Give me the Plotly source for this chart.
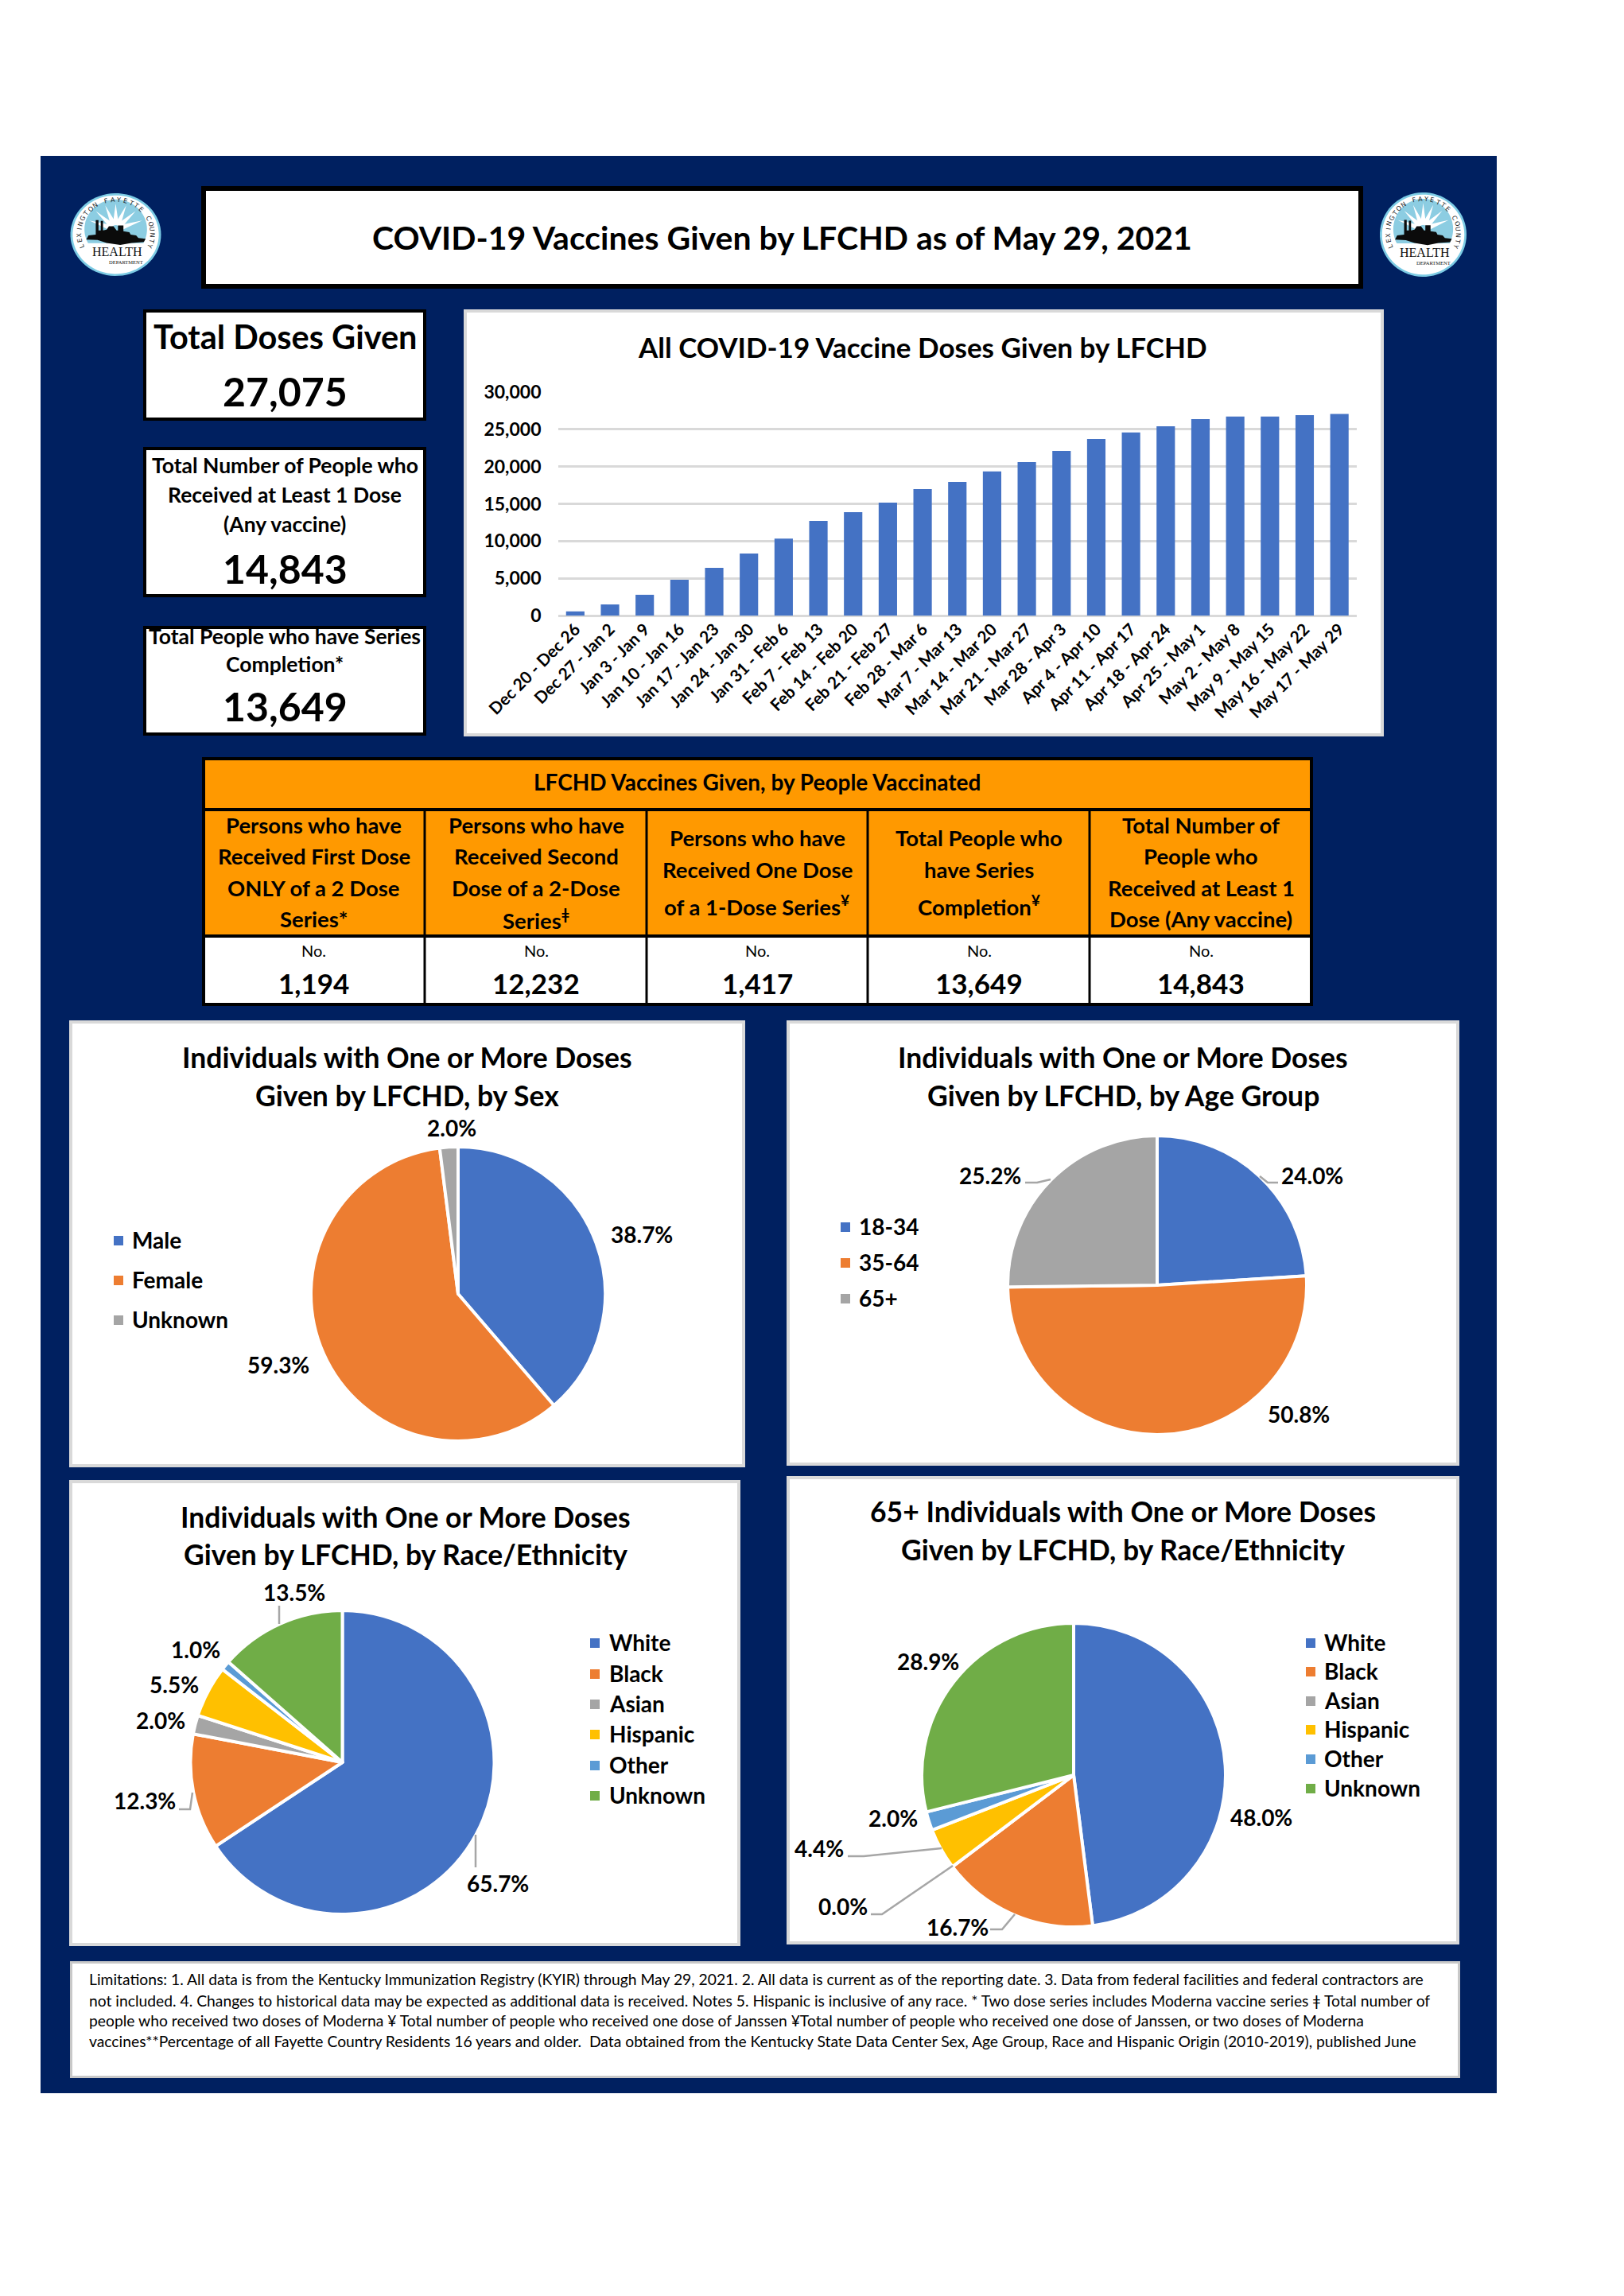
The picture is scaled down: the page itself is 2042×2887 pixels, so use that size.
import numpy as np
import plotly.graph_objects as go

W, H = 2042, 2887
NAVY = "#002060"
ORANGE_HDR = "#FF9900"
BLUE, ORANGE, GRAY, YELLOW, LBLUE, GREEN = "#4472C4", "#ED7D31", "#A5A5A5", "#FFC000", "#5B9BD5", "#70AD47"
FONT = "Lato"

# ---------- data ----------
report_title = "COVID-19 Vaccines Given by LFCHD as of May 29, 2021"
total_doses = "27,075"
at_least_one = "14,843"
series_complete = "13,649"

week_labels = ["Dec 20 - Dec 26", "Dec 27 - Jan 2", "Jan 3 - Jan 9", "Jan 10 - Jan 16", "Jan 17 - Jan 23",
               "Jan 24 - Jan 30", "Jan 31 - Feb 6", "Feb 7 - Feb 13", "Feb 14 - Feb 20", "Feb 21 - Feb 27",
               "Feb 28 - Mar 6", "Mar 7 - Mar 13", "Mar 14 - Mar 20", "Mar 21 - Mar 27", "Mar 28 - Apr 3",
               "Apr 4 - Apr 10", "Apr 11 - Apr 17", "Apr 18 - Apr 24", "Apr 25 - May 1", "May 2 - May 8",
               "May 9 - May 15", "May 16 - May 22", "May 17 - May 29"]
cumulative_doses = [550, 1490, 2790, 4810, 6410, 8320, 10340, 12710, 13890, 15150, 16980, 17940, 19350,
                    20610, 22100, 23700, 24580, 25420, 26370, 26720, 26720, 26910, 27075]
y_ticks = [0, 5000, 10000, 15000, 20000, 25000, 30000]

table_title = "LFCHD Vaccines Given, by People Vaccinated"
table_headers = [
    ["Persons who have", "Received First Dose", "ONLY of a 2 Dose", "Series*"],
    ["Persons who have", "Received Second", "Dose of a 2-Dose", "Series<sup>ǂ</sup>"],
    ["Persons who have", "Received One Dose", "of a 1-Dose Series<sup>¥</sup>"],
    ["Total People who", "have Series", "Completion<sup>¥</sup>"],
    ["Total Number of", "People who", "Received at Least 1", "Dose (Any vaccine)"],
]
table_values = ["1,194", "12,232", "1,417", "13,649", "14,843"]

sex_labels = ["Male", "Female", "Unknown"]
sex_values = [38.7, 59.3, 2.0]
age_labels = ["18-34", "35-64", "65+"]
age_values = [24.0, 50.8, 25.2]
race_labels = ["White", "Black", "Asian", "Hispanic", "Other", "Unknown"]
race_values = [65.7, 12.3, 2.0, 5.5, 1.0, 13.5]
senior_race_values = [48.0, 16.7, 0.0, 4.4, 2.0, 28.9]

footnotes = [
    "Limitations: 1. All data is from the Kentucky Immunization Registry (KYIR) through May 29, 2021. 2. All data is current as of the reporting date. 3. Data from federal facilities and federal contractors are",
    "not included. 4. Changes to historical data may be expected as additional data is received. Notes 5. Hispanic is inclusive of any race. * Two dose series includes Moderna vaccine series ǂ Total number of",
    "people who received two doses of Moderna ¥ Total number of people who received one dose of Janssen ¥Total number of people who received one dose of Janssen, or two doses of Moderna",
    "vaccines**Percentage of all Fayette Country Residents 16 years and older.  Data obtained from the Kentucky State Data Center Sex, Age Group, Race and Hispanic Origin (2010-2019), published June",
]

# ---------- helpers ----------
X = lambda px: px / W
Y = lambda py: 1 - py / H
shapes, annots = [], []


def rect(x0, y0, x1, y1, fill, line=None, lw=0):
    i = lw / 2
    shapes.append(dict(type="rect", xref="paper", yref="paper", layer="below",
                       x0=X(x0 + i), x1=X(x1 - i), y0=Y(y1 - i), y1=Y(y0 + i), fillcolor=fill,
                       line=dict(color=line or fill, width=lw)))


def line(points, color="#A6A6A6", lw=2.5):
    path = "M " + " L ".join(f"{X(a):.5f} {Y(b):.5f}" for a, b in points)
    shapes.append(dict(type="path", xref="paper", yref="paper", path=path, line=dict(color=color, width=lw)))


def poly(points, fill):
    path = "M " + " L ".join(f"{X(a):.5f} {Y(b):.5f}" for a, b in points) + " Z"
    shapes.append(dict(type="path", xref="paper", yref="paper", layer="below", path=path,
                       fillcolor=fill, line=dict(width=0)))


def text(x, y, s, size, bold=True, anchor="center", color="black", family=FONT, angle=0):
    annots.append(dict(xref="paper", yref="paper", x=X(x), y=Y(y - 1.5), text=s, showarrow=False, xanchor=anchor,
                       yanchor="middle", textangle=angle, borderpad=0,
                       font=dict(family=family, size=size, color=color, weight=700 if bold else 400)))


def ellipse_pts(cx, cy, rx, ry, a0=0, a1=360, n=72):
    t = np.radians(np.linspace(a0, a1, n))
    return [(cx + rx * np.cos(v), cy + ry * np.sin(v)) for v in t]


def logo(cx, cy, rx, ry):
    P = lambda u, v: (cx + u * rx, cy + v * ry)
    poly(ellipse_pts(cx, cy, rx, ry), "#7CCBE4")
    poly(ellipse_pts(cx, cy, rx * .95, ry * .95), "white")
    sky = ellipse_pts(cx, cy - .13 * ry, rx * .69, ry * .72, 152, 388, 50)
    poly(sky, "#8CCDE2")
    for ang in (-70, -45, -22, 0, 22, 45, 70):
        a = np.radians(ang)
        tip = P(.62 * np.sin(a), -.13 - .62 * np.cos(a))
        b0 = P(.12 * np.sin(a - .6), -.13 - .12 * np.cos(a - .6))
        b1 = P(.12 * np.sin(a + .6), -.13 - .12 * np.cos(a + .6))
        poly([tip, b0, b1], "white")
    sky_line = [(-.65, .12), (-.6, .02), (-.44, .0), (-.44, -.35), (-.38, -.35), (-.38, -.1), (-.33, -.1),
                (-.33, -.33), (-.28, -.33), (-.28, -.1), (-.2, -.12), (-.15, -.2), (-.05, -.2), (.02, -.1),
                (.05, -.1), (.05, -.22), (.17, -.22), (.17, -.08), (.3, -.06), (.33, .0), (.45, .02),
                (.5, .08), (.66, .1), (.62, .18), (.35, .2), (.1, .25), (-.2, .2), (-.4, .13)]
    poly([P(u, v) for u, v in sky_line], "#0B0B0B")
    ring = "LEXINGTON FAYETTE COUNTY"
    for i, ch in enumerate(ring):
        if ch == " ":
            continue
        a = -112 + 224 * i / (len(ring) - 1)
        r = np.radians(a)
        x, y = P(.81 * np.sin(r), -.81 * np.cos(r))
        text(x, y, ch, 8, bold=False, color="#222222", angle=a, family="DejaVu Sans")
    x, y = P(.03, .45)
    text(x, y, "HEALTH", 16, bold=False, color="#111111", family="Liberation Serif")
    x, y = P(.23, .69)
    text(x, y, "DEPARTMENT", 6.5, bold=False, color="#111111", family="Liberation Serif")


def legend(swatch_x, text_x, ys, labels, colors, size=28):
    for yy, lab, col in zip(ys, labels, colors):
        rect(swatch_x, yy - 6, swatch_x + 12, yy + 6, col)
        text(text_x, yy, lab, size, anchor="left")


# ---------- background and frames ----------
rect(51, 196, 1882, 2632, NAVY)
rect(253, 234, 1714, 363, "white", "black", 6)
text(983, 300, report_title, 41)
logo(145.5, 295, 57, 52)
logo(1789.5, 295, 54.5, 53)

rect(180, 389, 536, 529, "white", "black", 4)
text(358, 425, "Total Doses Given", 41.5)
text(358, 494, total_doses, 50)
rect(180, 562, 536, 751, "white", "black", 4)
text(358, 586, "Total Number of People who", 26.5)
text(358, 623, "Received at Least 1 Dose", 26.5)
text(358, 660, "(Any vaccine)", 26.5)
text(358, 716, at_least_one, 50)
rect(180, 787, 536, 925, "white", "black", 4)
text(358, 801, "Total People who have Series", 26.5)
text(358, 837, "Completion*", 26.5)
text(358, 889, series_complete, 50)

# ---------- bar panel ----------
rect(583, 389, 1740, 926, "white", "#D9D9D9", 4)
text(1160, 437, "All COVID-19 Vaccine Doses Given by LFCHD", 35)

# ---------- table ----------
col_edges = [254, 534, 813, 1091, 1370, 1651]
col_mid = [394.5, 674, 952, 1231, 1510]
rect(254, 952, 1651, 1265, "black")
rect(258, 956, 1647, 1016, ORANGE_HDR)
text(952, 985, table_title, 28)
hdr_ys = {3: [1055, 1095, 1140], 4: [1039, 1078, 1118, 1157]}
for i, (hdr, val) in enumerate(zip(table_headers, table_values)):
    left = col_edges[i] + (4 if i == 0 else 1.5)
    right = col_edges[i + 1] - (4 if i == 4 else 1.5)
    rect(left, 1020, right, 1175, ORANGE_HDR)
    rect(left, 1179, right, 1261, "white")
    for yy, s in zip(hdr_ys[len(hdr)], hdr):
        text(col_mid[i], yy, s, 27.5)
    text(col_mid[i], 1196, "No.", 20, bold=False)
    text(col_mid[i], 1238, val, 35)

# ---------- pie panels ----------
pies = [
    dict(panel=(87, 1283, 937, 1845), cx=576, cy=1627, r=185, vals=sex_values, labs=sex_labels,
         cols=[BLUE, ORANGE, GRAY],
         title=("Individuals with One or More Doses", "Given by LFCHD, by Sex"), tx=512, tys=(1331, 1379),
         pos=[(807, 1553), (350, 1717), (568, 1419)], lx=(143, 165), lys=(1560, 1610, 1660)),
    dict(panel=(989, 1283, 1835, 1843), cx=1455, cy=1616, r=188, vals=age_values, labs=age_labels,
         cols=[BLUE, ORANGE, GRAY],
         title=("Individuals with One or More Doses", "Given by LFCHD, by Age Group"), tx=1412, tys=(1331, 1379),
         pos=[(1650, 1479), (1633, 1779), (1245, 1479)], lx=(1057, 1079), lys=(1543, 1588, 1633)),
    dict(panel=(87, 1861, 931, 2447), cx=430.5, cy=2216, r=191, vals=race_values, labs=race_labels,
         cols=[BLUE, ORANGE, GRAY, YELLOW, LBLUE, GREEN],
         title=("Individuals with One or More Doses", "Given by LFCHD, by Race/Ethnicity"), tx=510, tys=(1909, 1956),
         pos=[(626, 2369), (182, 2265), (202, 2164), (219, 2119), (246, 2075), (370, 2003)],
         lx=(742, 765), lys=(2066, 2105, 2143, 2181, 2220, 2258)),
    dict(panel=(989, 1856, 1835, 2445), cx=1350, cy=2232, r=191, vals=senior_race_values, labs=race_labels,
         cols=[BLUE, ORANGE, GRAY, YELLOW, LBLUE, GREEN],
         title=("65+ Individuals with One or More Doses", "Given by LFCHD, by Race/Ethnicity"), tx=1412, tys=(1902, 1950),
         pos=[(1586, 2286), (1204, 2424), (1060, 2398), (1030, 2325), (1123, 2287), (1167, 2090)],
         lx=(1642, 1664), lys=(2066, 2102, 2139, 2175, 2212, 2249)),
]

fig = go.Figure()
for p in pies:
    rect(*p["panel"], "white", "#D9D9D9", 4)
    for yy, s in zip(p["tys"], p["title"]):
        text(p["tx"], yy, s, 35.5)
    fig.add_trace(go.Pie(values=p["vals"], labels=p["labs"], sort=False, direction="clockwise", rotation=0,
                         marker=dict(colors=p["cols"], line=dict(color="white", width=4)),
                         textinfo="none", showlegend=False,
                         domain=dict(x=[X(p["cx"] - p["r"]), X(p["cx"] + p["r"])],
                                     y=[Y(p["cy"] + p["r"]), Y(p["cy"] - p["r"])])))
    for (x, y), v in zip(p["pos"], p["vals"]):
        text(x, y, f"{v:.1f}%", 28)
    legend(p["lx"][0], p["lx"][1], p["lys"], p["labs"], p["cols"])

# leader lines
for pts in [
    [(1584, 1479), (1594, 1487), (1607, 1487)],
    [(1321, 1483), (1304, 1487), (1289, 1487)],
    [(351, 2019), (351, 2042)],
    [(242, 2254), (239, 2275), (225, 2275)],
    [(598, 2307), (598, 2348)],
    [(1066, 2334), (1086, 2334), (1184, 2324)],
    [(1095, 2407), (1109, 2407), (1198, 2346)],
    [(1245, 2426), (1260, 2426), (1276, 2407)],
]:
    line(pts)

# ---------- footnote ----------
rect(88, 2466, 1836, 2613, "white", "#C8C8C8", 3)
for yy, s in zip((2490, 2517, 2542, 2568), footnotes):
    text(111, yy, s, 19.3, bold=False, anchor="left")

# ---------- bar chart ----------
fig.add_trace(go.Bar(x=week_labels, y=cumulative_doses, marker=dict(color=BLUE, line=dict(width=0)), showlegend=False))

fig.update_layout(
    width=W, height=H, margin=dict(l=0, r=0, t=0, b=0, autoexpand=False),
    paper_bgcolor="white", plot_bgcolor="rgba(0,0,0,0)", bargap=0.47,
    font=dict(family=FONT, color="black"), shapes=shapes, annotations=annots,
    xaxis=dict(domain=[X(701.5), X(1706)], anchor="y", type="category", categoryorder="array",
               categoryarray=week_labels, range=[-0.5, 22.5], tickangle=-45, showgrid=False, showline=False,
               zeroline=False, ticks="", tickfont=dict(family=FONT, size=21, color="black", weight=700)),
    yaxis=dict(domain=[Y(774), Y(493)], anchor="x", range=[0, 30000], tickvals=y_ticks, tickformat=",",
               gridcolor="#D9D9D9", gridwidth=3, zeroline=True, zerolinecolor="#D9D9D9", zerolinewidth=3,
               showline=False, ticks="", ticklabelstandoff=20,
               tickfont=dict(family=FONT, size=23, color="black", weight=700)),
)

fig.write_html("out.html", post_script="document.body.style.margin='0';",
               config=dict(displayModeBar=False))
